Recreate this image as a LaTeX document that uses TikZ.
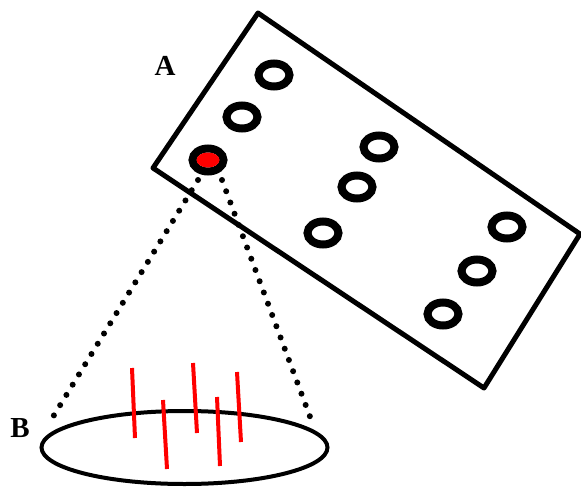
\documentclass[tikz,border=0pt]{standalone}
\usepackage{fontspec}
\setmainfont{Liberation Serif}
\usetikzlibrary{positioning, calc, shapes.geometric}

\tikzset{
    ring/.style={line width=8pt},
    probe/.style={line width=6pt, line cap=round, dash pattern=on 0pt off 12pt},
    fibre/.style={red, line width=4pt},
    lbl/.style={font=\fontsize{29}{29}\selectfont\bfseries}
}

\begin{document}
\begin{tikzpicture}[x=1pt, y=-1pt]
    \useasboundingbox (0,0) rectangle (581,487);

    % plate A
    \draw[line width=5pt, line join=round] (258,13) -- (580,234) -- (484,388) -- (153,168) -- cycle;
    \node[lbl] (A) at (165,66) {A};

    % rings
    \foreach \x/\y in {274/75, 242/117, 379/147, 357/187, 323/233, 507/227, 477/271, 443/314} {
        \draw[ring] (\x,\y) ellipse (15.5 and 11.5);
    }

    % selected ring
    \draw[ring] (208,160) ellipse (15.5 and 11.5);
    \fill[red] (208,160) ellipse (11.5 and 7.5);
    \coordinate (selL) at (198,180);
    \coordinate (selR) at (222,180);

    % sample B
    \node[draw, ellipse, line width=4pt, minimum width=286pt, minimum height=73pt, inner sep=0pt] (B) at (184.5,447.5) {};
    \node[lbl] (labB) at (20,428) {B};
    \coordinate (bL) at (48,425);
    \coordinate (bR) at (312,422);

    % projection
    \draw[probe] (selL) -- (bL);
    \draw[probe] (selR) -- (bR);

    % fibres
    \draw[fibre] (132,368) -- (135,438);
    \draw[fibre] (163,400) -- (167,469);
    \draw[fibre] (193,363) -- (197,433);
    \draw[fibre] (217,397) -- (220,466);
    \draw[fibre] (237,372) -- (241,442);
\end{tikzpicture}
\end{document}
